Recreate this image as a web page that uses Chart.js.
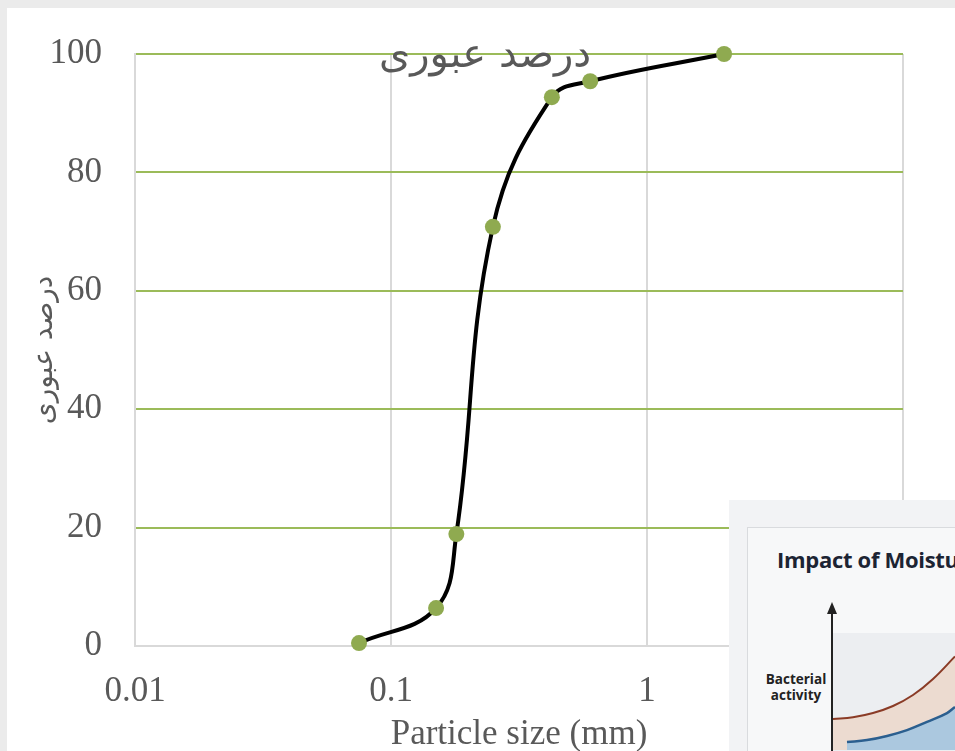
<!DOCTYPE html>
<html>
<head>
<meta charset="utf-8">
<script src="https://cdn.jsdelivr.net/npm/chart.js@4.4.0/dist/chart.umd.min.js"></script>
<style>
  html, body { margin: 0; padding: 0; }
  body { width: 955px; height: 751px; background: #ebebeb; position: relative; overflow: hidden; }
  #sheet { position: absolute; left: 7px; top: 8px; right: 0; bottom: 0; background: #fff; }
  #main { position: absolute; left: 0; top: 0; }
  #inset { position: absolute; left: 729px; top: 500px; width: 226px; height: 251px; background: #f2f3f5; overflow: hidden; }
  #insetBox { position: absolute; left: 18px; top: 27px; width: 230px; height: 240px; border: 1.5px solid #d9dbde; background: #f7f8f9; }
  #insetTitle { position: absolute; left: 29px; top: 16px; white-space: nowrap; font: bold 22px "Open Sans", sans-serif; color: #1c2433; letter-spacing: -0.3px; }
  #insetLabel { position: absolute; left: 11px; top: 143px; width: 74px; text-align: center; font: bold 13.5px "Open Sans", sans-serif; line-height: 16px; color: #222; }
  #plotBg { position: absolute; left: 85px; top: 105px; width: 140px; height: 130px; background: #eceef1; }
  #insetCanvas { position: absolute; left: 85px; top: 105px; }
  #axisLine { position: absolute; left: 83px; top: 82px; width: 2px; height: 180px; background: #222; }
  #arrowHead { position: absolute; left: 79px; top: 74px; width: 0; height: 0; border-left: 5px solid transparent; border-right: 5px solid transparent; border-bottom: 12px solid #222; }
</style>
</head>
<body>
<div id="sheet"></div>
<canvas id="main" width="955" height="751"></canvas>
<div id="inset">
  <div id="insetBox">
    <div id="insetTitle">Impact of Moisture</div>
    <div id="plotBg"></div>
    <canvas id="insetCanvas" width="122" height="117"></canvas>
    <div id="insetLabel">Bacterial activity</div>
    <div id="axisLine"></div>
    <div id="arrowHead"></div>
  </div>
</div>
<script>
// Sieve analysis data (particle size in mm, percent passing)
const particleSize = [0.075, 0.15, 0.18, 0.25, 0.425, 0.6, 2.0];
const percentPassing = [0.5, 6.4, 18.9, 70.8, 92.7, 95.4, 100];
const xTickValues = [0.01, 0.1, 1, 10];
const yTickValues = [0, 20, 40, 60, 80, 100];

const chartTitle = 'درصد عبوری';
const yAxisTitle = 'درصد عبوری';
const xAxisTitle = 'Particle size (mm)';

// Inset picture curves
const insetBrownX = [0, 20, 40, 60, 80, 100, 122];
const insetBrownY = [26.5, 28, 31.6, 37.6, 47, 60.7, 80];
const insetBlueX = [14, 34, 54, 74, 94, 114, 122];
const insetBlueY = [6.8, 8.5, 12, 17, 24, 31.6, 36.8];

const textGray = '#595959';
const serif = '"Liberation Serif", "Times New Roman", serif';

// Title drawn inside the plot, over the top grid line
const titlePlugin = {
    id: 'innerTitle',
    afterDraw(chart) {
        const ctx = chart.ctx;
        ctx.save();
        ctx.font = '40px "DejaVu Sans"';
        ctx.fillStyle = textGray;
        ctx.textAlign = 'center';
        ctx.textBaseline = 'middle';
        ctx.fillText(chartTitle, 485, 57);
        ctx.restore();
    }
};

new Chart(document.getElementById('main'), {
    type: 'line',
    data: {
        datasets: [{
            data: particleSize.map((x, i) => ({ x: x, y: percentPassing[i] })),
            borderColor: '#000',
            borderWidth: 4,
            tension: 0.4,
            pointRadius: 8,
            pointBackgroundColor: '#8faa50',
            pointBorderWidth: 0,
            clip: false,
            fill: false
        }]
    },
    options: {
        responsive: false,
        animation: false,
        layout: { padding: { left: 0, top: 53, right: 52, bottom: 0 } },
        plugins: { legend: { display: false }, tooltip: { enabled: false } },
        scales: {
            x: {
                type: 'logarithmic',
                min: 0.01,
                max: 10,
                afterBuildTicks: scale => { scale.ticks = xTickValues.map(v => ({ value: v })); },
                afterFit: scale => { scale.height = 105; },
                ticks: {
                    autoSkip: false,
                    maxRotation: 0,
                    padding: 25,
                    color: textGray,
                    font: { family: serif, size: 35 },
                    callback: v => String(v)
                },
                grid: { color: '#d9d9d9', lineWidth: 2, drawTicks: false },
                border: { display: false },
                title: {
                    display: true,
                    text: xAxisTitle,
                    color: textGray,
                    font: { family: serif, size: 35, lineHeight: 0.9 },
                    padding: 0
                }
            },
            y: {
                min: 0,
                max: 100,
                afterBuildTicks: scale => { scale.ticks = yTickValues.map(v => ({ value: v })); },
                afterFit: scale => { scale.width = 135; },
                ticks: {
                    padding: 33,
                    color: textGray,
                    font: { family: serif, size: 35 }
                },
                grid: {
                    color: c => (c.tick && c.tick.value === 0) ? '#d9d9d9' : '#9bbb59',
                    lineWidth: 2,
                    drawTicks: false
                },
                border: { display: true, color: '#d9d9d9', width: 2 },
                title: {
                    display: true,
                    text: yAxisTitle,
                    color: textGray,
                    font: { family: '"DejaVu Sans"', size: 28, lineHeight: 1.2 },
                    padding: { top: 28, bottom: 0 }
                }
            }
        }
    },
    plugins: [titlePlugin]
});

// Small pasted picture in the lower right corner
new Chart(document.getElementById('insetCanvas'), {
    type: 'line',
    data: {
        datasets: [{
            data: insetBlueX.map((x, i) => ({ x: x, y: insetBlueY[i] })),
            borderColor: '#2b5f8f',
            borderWidth: 2.5,
            tension: 0.4,
            pointRadius: 0,
            fill: 'start',
            backgroundColor: 'rgba(160, 196, 226, 0.85)'
        }, {
            data: insetBrownX.map((x, i) => ({ x: x, y: insetBrownY[i] })),
            borderColor: '#8a3b26',
            borderWidth: 2,
            tension: 0.4,
            pointRadius: 0,
            fill: 'start',
            backgroundColor: 'rgba(236, 214, 200, 0.8)'
        }]
    },
    options: {
        responsive: false,
        animation: false,
        layout: { padding: 0 },
        plugins: { legend: { display: false }, tooltip: { enabled: false } },
        scales: {
            x: { type: 'linear', min: 0, max: 122, display: false },
            y: { min: 0, max: 100, display: false }
        }
    }
});
</script>
</body>
</html>
